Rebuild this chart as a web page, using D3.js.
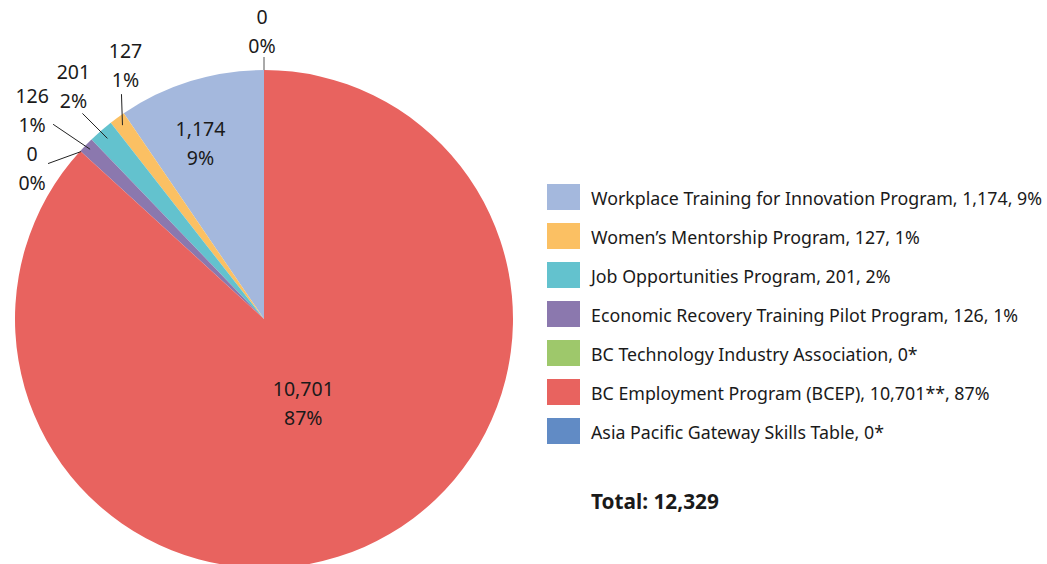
<!DOCTYPE html>
<html>
<head>
<meta charset="utf-8">
<script src="https://cdn.jsdelivr.net/npm/d3@7"></script>
<style>
  body { margin: 0; background: #fff; }
  text { font-family: "Noto Sans", sans-serif; fill: #1a1a1a; }
</style>
</head>
<body>
<div id="graphic"></div>
<script>
// program names, counts, shares and colours, in drawing order (counter-clockwise from 12 o'clock)
var programs = [
  "Workplace Training for Innovation Program",
  "Women\u2019s Mentorship Program",
  "Job Opportunities Program",
  "Economic Recovery Training Pilot Program",
  "BC Technology Industry Association",
  "BC Employment Program (BCEP)",
  "Asia Pacific Gateway Skills Table"
];
var counts = [1174, 127, 201, 126, 0, 10701, 0];
var countLabels = ["1,174", "127", "201", "126", "0", "10,701", "0"];
var shares = ["9%", "1%", "2%", "1%", "0%", "87%", "0%"];
var legendTexts = [
  "Workplace Training for Innovation Program, 1,174, 9%",
  "Women\u2019s Mentorship Program, 127, 1%",
  "Job Opportunities Program, 201, 2%",
  "Economic Recovery Training Pilot Program, 126, 1%",
  "BC Technology Industry Association, 0*",
  "BC Employment Program (BCEP), 10,701**, 87%",
  "Asia Pacific Gateway Skills Table, 0*"
];
var colors = ["#a4b8dd", "#fbc063", "#63c2ce", "#8b78ae", "#9ec86b", "#e8635f", "#618bc5"];
var totalLabel = "Total: 12,329";

// label layout: inside labels sit at radius r with a text shift;
// outside ones get a leader line from radius r, then text relative to the line's far end
var labelLayout = [
  { inside: true,  r: 175, text: [-12, -16] },
  { inside: false, r: 240, line: [-1, -31],  text: [4, -36] },
  { inside: false, r: 239, line: [-25, -25], text: [-9, -34] },
  { inside: false, r: 243, line: [-37, -25], text: [-21, -21] },
  { inside: false, r: 248, line: [-33, 12],  text: [-16, -3] },
  { inside: true,  r: 100, text: [-1, -15] },
  { inside: false, r: 249, line: [0, -13],   text: [-2, -33] }
];

var w = 1047, h = 564;
var cx = 264, cy = 319, radius = 249;

var svg = d3.select("#graphic")
  .append("svg")
  .attr("width", w)
  .attr("height", h);

var pie = d3.pie()
  .sort(null)
  .startAngle(0)
  .endAngle(-2 * Math.PI)
  .value(function(d){ return d; });

var arcs = pie(counts);

var arc = d3.arc().innerRadius(0).outerRadius(radius);

var g = svg.append("g")
  .attr("transform", "translate(" + cx + "," + cy + ")");

g.selectAll("path")
  .data(arcs)
  .enter()
  .append("path")
  .attr("d", arc)
  .attr("fill", function(d, i){ return colors[i]; });

function pointAt(d, r){
  return d3.arc().innerRadius(r).outerRadius(r).centroid(d);
}

arcs.forEach(function(d, i){
  var lay = labelLayout[i];
  var p = pointAt(d, lay.r);
  var tx, ty;
  if (lay.inside){
    tx = p[0] + lay.text[0];
    ty = p[1] + lay.text[1];
  } else {
    var sx = p[0] + lay.line[0], sy = p[1] + lay.line[1];
    g.append("line")
      .attr("x1", p[0]).attr("y1", p[1])
      .attr("x2", sx).attr("y2", sy)
      .attr("stroke", i == 6 ? "#555" : "#222")
      .attr("stroke-width", 1);
    tx = sx + lay.text[0];
    ty = sy + lay.text[1];
  }
  var t = g.append("text")
    .attr("text-anchor", "middle")
    .attr("font-size", 19.5);
  t.append("tspan").attr("x", tx).attr("y", ty).text(countLabels[i]);
  t.append("tspan").attr("x", tx).attr("y", ty + 29).text(shares[i]);
});

// legend
var legend = svg.append("g")
  .attr("transform", "translate(547,184)");

var rows = legend.selectAll("g")
  .data(legendTexts)
  .enter()
  .append("g")
  .attr("transform", function(d, i){ return "translate(0," + (i * 39) + ")"; });

rows.append("rect")
  .attr("width", 33)
  .attr("height", 26)
  .attr("fill", function(d, i){ return colors[i]; });

rows.append("text")
  .attr("x", 44)
  .attr("y", 21)
  .attr("font-size", 17.8)
  .text(function(d){ return d; });

svg.append("text")
  .attr("x", 591)
  .attr("y", 509)
  .attr("font-size", 20.8)
  .attr("font-weight", "bold")
  .text(totalLabel);
</script>
</body>
</html>
